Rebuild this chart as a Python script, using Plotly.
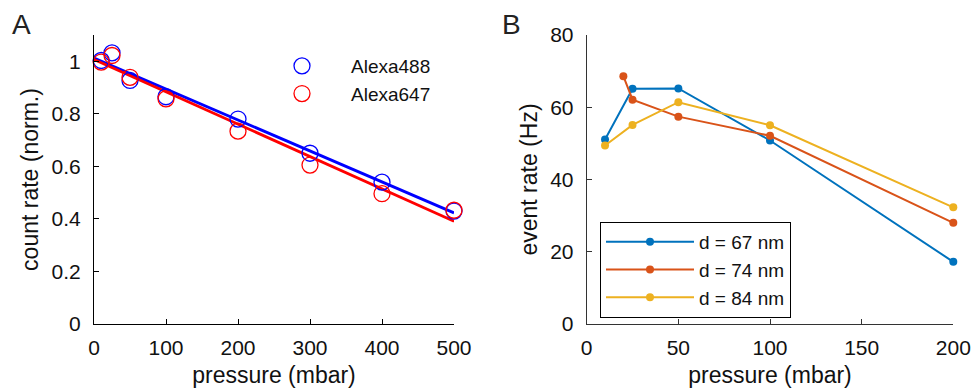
import plotly.graph_objects as go

# Panel A: normalised count rate vs pressure, two dyes with linear fits
pressure_a = [10, 25, 50, 100, 200, 300, 400, 500]
alexa488 = [1.003, 1.032, 0.927, 0.865, 0.780, 0.650, 0.540, 0.430]
alexa647 = [0.997, 1.022, 0.939, 0.857, 0.734, 0.605, 0.496, 0.433]
fit_x = [0, 500]
fit488 = [1.012, 0.423]
fit647 = [1.007, 0.391]

# Panel B: event rate vs pressure for three pore diameters
pressure_b67 = [10, 25, 50, 100, 200]
rate_67 = [51.1, 65.1, 65.2, 50.8, 17.2]
pressure_b74 = [20, 25, 50, 100, 200]
rate_74 = [68.6, 62.1, 57.4, 52.1, 28.0]
pressure_b84 = [10, 25, 50, 100, 200]
rate_84 = [49.4, 55.1, 61.4, 55.0, 32.3]

W, H = 971, 391
FONT = "Liberation Sans, Arial, sans-serif"
BLUE_A, RED_A = "#0000FF", "#FF0000"
C67, C74, C84 = "#0072BD", "#D95319", "#EDB120"


def px_x(x):
    return x / W


def px_y(y):
    return 1 - y / H


fig = go.Figure()

fig.add_trace(go.Scatter(x=fit_x, y=fit488, mode="lines", line=dict(color=BLUE_A, width=2.8),
                         showlegend=False, xaxis="x", yaxis="y", cliponaxis=False))
fig.add_trace(go.Scatter(x=fit_x, y=fit647, mode="lines", line=dict(color=RED_A, width=2.8),
                         showlegend=False, xaxis="x", yaxis="y", cliponaxis=False))
fig.add_trace(go.Scatter(x=pressure_a, y=alexa488, mode="markers", name="Alexa488",
                         marker=dict(symbol="circle-open", size=16, color=BLUE_A, line=dict(width=1.3)),
                         xaxis="x", yaxis="y", legend="legend", cliponaxis=False))
fig.add_trace(go.Scatter(x=pressure_a, y=alexa647, mode="markers", name="Alexa647",
                         marker=dict(symbol="circle-open", size=16, color=RED_A, line=dict(width=1.3)),
                         xaxis="x", yaxis="y", legend="legend", cliponaxis=False))

for xs, ys, c, nm in [(pressure_b67, rate_67, C67, "d = 67 nm"),
                      (pressure_b74, rate_74, C74, "d = 74 nm"),
                      (pressure_b84, rate_84, C84, "d = 84 nm")]:
    fig.add_trace(go.Scatter(x=xs, y=ys, mode="lines+markers", name=nm,
                             line=dict(color=c, width=2), marker=dict(size=8, color=c),
                             xaxis="x2", yaxis="y2", legend="legend2", cliponaxis=False))

tickfont = dict(family=FONT, size=21, color="#111111")
titlefont = dict(family=FONT, size=23, color="#111111")

ydom = [px_y(324), px_y(35)]

axis_common = dict(showgrid=False, zeroline=False, showline=True, linewidth=1,
                   ticks="inside", ticklen=5, tickwidth=1, tickfont=tickfont,
                   automargin=False, mirror=False)

fig.update_layout(
    width=W, height=H,
    margin=dict(l=0, r=0, t=0, b=0),
    paper_bgcolor="white", plot_bgcolor="white",
    font=dict(family=FONT, size=20, color="#111111"),
    xaxis=dict(domain=[px_x(94), px_x(454)], range=[0, 500], tickvals=[0, 100, 200, 300, 400, 500],
               linecolor="black", tickcolor="black", anchor="y", ticklabelstandoff=5,
               title=dict(text="pressure (mbar)", font=titlefont, standoff=8), **axis_common),
    yaxis=dict(domain=ydom, range=[0, 1.1], tickvals=[0, 0.2, 0.4, 0.6, 0.8, 1],
               ticktext=["0", "0.2", "0.4", "0.6", "0.8", "1"],
               linecolor="black", tickcolor="black", anchor="x", ticklabelstandoff=8,
               title=dict(text="count rate (norm.)", font=titlefont, standoff=6), **axis_common),
    xaxis2=dict(domain=[px_x(586.7), px_x(953.3)], range=[0, 200], tickvals=[0, 50, 100, 150, 200],
                linecolor="#333333", tickcolor="#333333", anchor="y2", ticklabelstandoff=5,
                title=dict(text="pressure (mbar)", font=titlefont, standoff=8), **axis_common),
    yaxis2=dict(domain=ydom, range=[0, 80], tickvals=[0, 20, 40, 60, 80],
                linecolor="#333333", tickcolor="#333333", anchor="x2", ticklabelstandoff=8,
                title=dict(text="event rate (Hz)", font=titlefont, standoff=6), **axis_common),
    legend=dict(x=px_x(253), y=px_y(47), xanchor="left", yanchor="top",
                bgcolor="rgba(0,0,0,0)", borderwidth=0, itemwidth=88,
                font=dict(family=FONT, size=19, color="#111111")),
    legend2=dict(x=px_x(600), y=px_y(222), xanchor="left", yanchor="top",
                 bgcolor="white", bordercolor="black", borderwidth=1, itemwidth=88,
                 font=dict(family=FONT, size=19, color="#111111")),
    annotations=[
        dict(text="A", x=px_x(10), y=px_y(7), xref="paper", yref="paper", xanchor="left",
             yanchor="top", showarrow=False, font=dict(family=FONT, size=28, color="#222222")),
        dict(text="B", x=px_x(500), y=px_y(7), xref="paper", yref="paper", xanchor="left",
             yanchor="top", showarrow=False, font=dict(family=FONT, size=28, color="#222222")),
    ],
)

fig.write_html("out.html")
